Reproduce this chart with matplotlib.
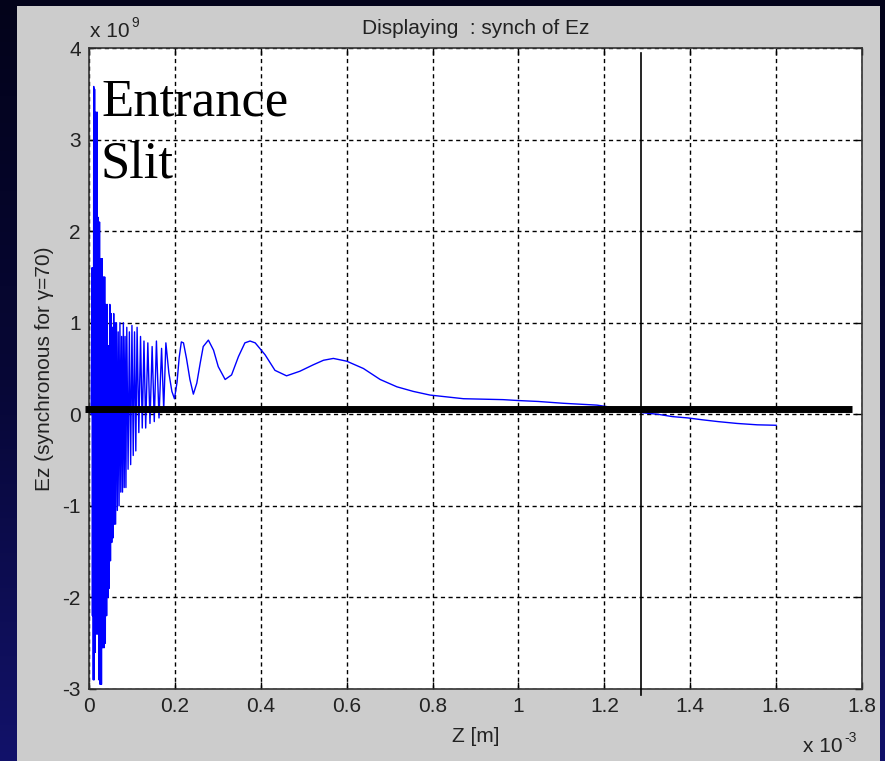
import numpy as np
import matplotlib.pyplot as plt
from matplotlib.colors import LinearSegmentedColormap
from matplotlib.patches import Rectangle

plt.rcParams['axes.unicode_minus'] = False

# Ez along z, z in units of 1e-3 m, Ez in units of 1e9
z_vals = [0.005, 0.007, 0.008, 0.009, 0.010, 0.011, 0.012, 0.013, 0.0145, 0.016,
          0.0175, 0.019, 0.020, 0.0215, 0.023, 0.0245, 0.026, 0.0275, 0.029, 0.0305,
          0.032, 0.0335, 0.035, 0.0365, 0.038, 0.0395, 0.041, 0.0425, 0.044, 0.0455,
          0.047, 0.0485, 0.050, 0.0515, 0.053, 0.0545, 0.056, 0.0575, 0.059, 0.0605,
          0.062, 0.064, 0.066, 0.068, 0.070, 0.072, 0.074, 0.076, 0.078, 0.080,
          0.082, 0.084, 0.086, 0.088, 0.091, 0.094, 0.097, 0.100, 0.103, 0.106,
          0.109, 0.112, 0.116, 0.120, 0.124, 0.128, 0.132, 0.137, 0.142, 0.147,
          0.152, 0.157, 0.163, 0.169, 0.174, 0.179, 0.186, 0.193, 0.199, 0.205,
          0.210, 0.215, 0.220, 0.227, 0.235, 0.243, 0.251, 0.259, 0.266, 0.278,
          0.290, 0.301, 0.317, 0.332, 0.348, 0.363, 0.375, 0.387, 0.410, 0.433,
          0.460, 0.491, 0.522, 0.546, 0.569, 0.600, 0.639, 0.678, 0.717, 0.755,
          0.794, 0.833, 0.872, 0.920, 0.964, 1.000, 1.046, 1.105, 1.183, 1.240,
          1.283, 1.325, 1.358, 1.395, 1.428, 1.465, 1.509, 1.556, 1.600]
ez_vals = [0.0, 1.6, -2.2, 1.6, -2.9, 3.58, -2.9, 3.55, -2.6, 3.3,
           -2.4, 3.3, -2.4, 2.15, -2.9, 2.1, -2.95, 1.7, -2.95, 1.7,
           -2.55, 1.5, -2.55, 1.5, -2.5, 1.2, -2.2, 1.2, -2.0, 0.75,
           -1.9, 1.2, -1.6, 1.1, -1.4, 0.95, -1.35, 1.1, -1.2, 1.0,
           -1.2, 1.0, -1.05, 0.9, -1.0, 1.0, -0.85, 0.85, -0.85, 1.0,
           -0.8, 0.85, -0.8, 0.95, -0.6, 0.9, -0.55, 0.97, -0.45, 0.9,
           -0.4, 0.95, -0.2, 0.85, -0.15, 0.8, -0.15, 0.78, -0.1, 0.74,
           -0.08, 0.8, -0.04, 0.72, 0.05, 0.78, 0.45, 0.25, 0.17, 0.35,
           0.62, 0.79, 0.78, 0.61, 0.38, 0.22, 0.34, 0.56, 0.74, 0.81,
           0.70, 0.52, 0.38, 0.43, 0.63, 0.78, 0.80, 0.78, 0.65, 0.48,
           0.42, 0.47, 0.54, 0.59, 0.61, 0.58, 0.50, 0.38, 0.30, 0.25,
           0.21, 0.19, 0.17, 0.165, 0.16, 0.15, 0.14, 0.12, 0.10, 0.06,
           0.02, 0.0, -0.025, -0.04, -0.06, -0.08, -0.10, -0.115, -0.12]

# reference lines
zero_line_z = [-0.01, 1.777]
zero_line_ez = [0.055, 0.055]
slit_end_z = [1.285, 1.285]
slit_end_ez = [-3.07, 3.95]

x_ticks = [0, 0.2, 0.4, 0.6, 0.8, 1.0, 1.2, 1.4, 1.6, 1.8]
x_labels = ['0', '0.2', '0.4', '0.6', '0.8', '1', '1.2', '1.4', '1.6', '1.8']
y_ticks = [-3, -2, -1, 0, 1, 2, 3, 4]

W, H = 885, 761
fig = plt.figure(figsize=(W / 100, H / 100), dpi=100)

# dark blue backdrop
bg = fig.add_axes([0, 0, 1, 1], zorder=-10)
grad = np.linspace(0, 1, 256).reshape(-1, 1)
cmap = LinearSegmentedColormap.from_list('bg', ['#03031a', '#070736', '#12126a'])
bg.imshow(grad, aspect='auto', cmap=cmap, extent=[0, 1, 0, 1], origin='upper')
bg.set_axis_off()

# grey figure window
fig.patches.append(Rectangle((17 / W, 0), 863 / W, 755 / H, transform=fig.transFigure,
                             facecolor='#cccccc', edgecolor='none', zorder=-5))

ax = fig.add_axes([89 / W, (H - 689) / H, (862 - 89) / W, (689 - 48) / H])
ax.set_facecolor('white')
ax.plot(z_vals, ez_vals, color='#0000ff', lw=1.0, zorder=3)
ax.plot(zero_line_z, zero_line_ez, color='black', lw=5, solid_capstyle='butt',
        clip_on=False, zorder=4)
ax.plot(slit_end_z, slit_end_ez, color='black', lw=1.2, clip_on=False, zorder=4)

ax.set_xlim(0, 1.8)
ax.set_ylim(-3, 4)
ax.set_xticks(x_ticks)
ax.set_xticklabels(x_labels)
ax.set_yticks(y_ticks)
ax.grid(True, color='black', lw=1.0, linestyle=(0, (3, 2.5)))
ax.tick_params(direction='in', length=5, width=1, top=True, right=True,
               labelsize=15, labelcolor='#222222', pad=6)
for lab in ax.get_xticklabels() + ax.get_yticklabels():
    lab.set_family('Liberation Sans')
for sp in ax.spines.values():
    sp.set_color('#333333')
    sp.set_linewidth(1.2)

txt = dict(family='Liberation Sans', color='#222222')
ax.set_title('Displaying  : synch of Ez', fontsize=15, pad=10, **txt)
ax.set_xlabel('Z [m]', fontsize=15, labelpad=8, **txt)
ax.set_ylabel('Ez (synchronous for γ=70)', fontsize=15, labelpad=6, **txt)

# axis multipliers, written as base text plus a small exponent
base_y = fig.text(90 / W, 1 - 37 / H, 'x 10', fontsize=15, va='baseline', ha='left', **txt)
ax.annotate('9', xy=(1, 0.75), xycoords=base_y, xytext=(1, 0), textcoords='offset points',
            fontsize=10, va='baseline', ha='left', **txt)
base_x = fig.text(843 / W, 1 - 752 / H, 'x 10', fontsize=15, va='baseline', ha='right', **txt)
ax.annotate('-3', xy=(1, 0.75), xycoords=base_x, xytext=(1, 0), textcoords='offset points',
            fontsize=10, va='baseline', ha='left', **txt)

fig.text(101 / W, 1 - 115 / H, 'Entrance', fontsize=38, family='Liberation Serif',
         color='black', va='baseline', ha='left')
fig.text(101 / W, 1 - 177 / H, 'Slit', fontsize=38, family='Liberation Serif',
         color='black', va='baseline', ha='left')

fig.savefig('out.png', dpi=100)
